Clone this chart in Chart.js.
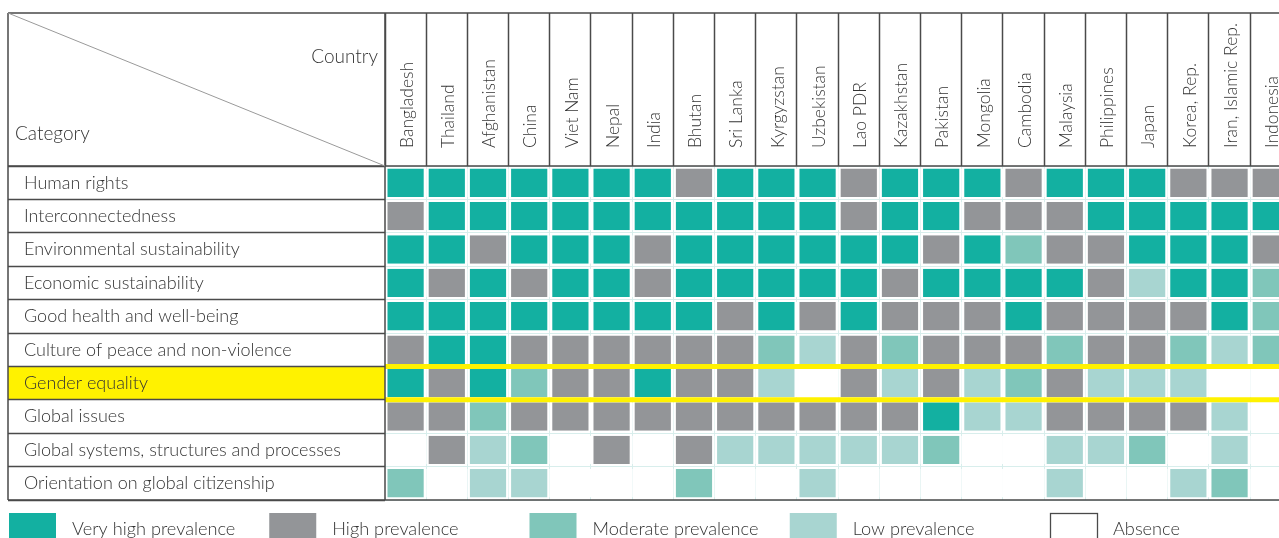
<!DOCTYPE html>
<html><head><meta charset="utf-8">
<script src="https://cdn.jsdelivr.net/npm/chart.js@4.4.1/dist/chart.umd.min.js"></script>
<style>html,body{margin:0;padding:0;background:#fff;overflow:hidden}
#wrap{position:relative;width:1279px;height:538px}</style>
</head><body><div id="wrap"><canvas id="c" width="1279" height="538"></canvas></div>
<script>
const categories = ["Human rights","Interconnectedness","Environmental sustainability","Economic sustainability","Good health and well-being","Culture of peace and non-violence","Gender equality","Global issues","Global systems, structures and processes","Orientation on global citizenship"];
const countries = ["Bangladesh","Thailand","Afghanistan","China","Viet Nam","Nepal","India","Bhutan","Sri Lanka","Kyrgyzstan","Uzbekistan","Lao PDR","Kazakhstan","Pakistan","Mongolia","Cambodia","Malaysia","Philippines","Japan","Korea, Rep.","Iran, Islamic Rep.","Indonesia"];
// prevalence level: 4 very high, 3 high, 2 moderate, 1 low, 0 absence (one value per country)
const humanRights        = [4,4,4,4,4,4,4,3,4,4,4,3,4,4,4,3,4,4,4,3,3,3];
const interconnectedness = [3,4,4,4,4,4,4,4,4,4,4,3,4,4,3,3,3,4,4,4,4,4];
const environmental      = [4,4,3,4,4,4,3,4,4,4,4,4,4,3,4,2,3,3,4,4,4,3];
const economic           = [4,3,4,3,4,4,3,4,4,4,4,4,3,4,4,4,4,3,1,4,4,2];
const goodHealth         = [4,4,4,4,4,4,4,4,3,4,3,4,3,3,3,4,3,3,3,3,4,2];
const culturePeace       = [3,4,4,3,3,3,3,3,3,2,1,3,2,3,3,3,2,3,3,2,1,2];
const genderEquality     = [4,3,4,2,3,3,4,3,3,1,0,3,1,3,1,2,3,1,1,1,0,0];
const globalIssues       = [3,3,2,3,3,3,3,3,3,3,3,3,3,4,1,1,3,3,3,3,1,0];
const globalSystems      = [0,3,1,2,0,3,0,3,1,1,1,1,1,2,0,0,1,1,2,0,1,0];
const orientation        = [2,0,1,1,0,0,0,2,0,0,1,0,0,0,0,0,1,0,0,1,2,0];
const levelNames  = ["Absence","Low prevalence","Moderate prevalence","High prevalence","Very high prevalence"];
const levelColors = ["#ffffff","#a8d5d1","#80c6ba","#939598","#13b0a1"];
const legendOrder = [4,3,2,1,0];
const highlightCategory = "Gender equality";

const matrix = [humanRights, interconnectedness, environmental, economic, goodHealth, culturePeace, genderEquality, globalIssues, globalSystems, orientation];

const FAMILY = "Lato, 'Open Sans', sans-serif";
const TEXT = "#333333";
const LINE = "#4a4a4a";

const datasets = countries.map((country, ci) => ({
  label: country,
  data: categories.map(() => [ci, ci + 1]),
  backgroundColor: matrix.map(row => levelColors[row[ci]]),
  borderColor: "#ffffff",
  borderWidth: {left: 2.5, right: 2.5, top: 0, bottom: 0},
  borderSkipped: false,
  grouped: false,
  barPercentage: 0.85,
  categoryPercentage: 1
}));

const tablePlugin = {
  id: "tablePlugin",
  beforeDraw(chart) {
    const {ctx, chartArea: a, scales: {y}} = chart;
    const hi = categories.indexOf(highlightCategory);
    const half = (y.getPixelForValue(1) - y.getPixelForValue(0)) / 2;
    const cy = y.getPixelForValue(hi);
    ctx.save();
    ctx.fillStyle = "#fff200";
    ctx.fillRect(8, cy - half, a.left - 8, half * 2);
    ctx.restore();
  },
  afterDatasetsDraw(chart) {
    const {ctx, chartArea: a, scales: {y}} = chart;
    const hi = categories.indexOf(highlightCategory);
    const half = (y.getPixelForValue(1) - y.getPixelForValue(0)) / 2;
    const cy = y.getPixelForValue(hi);
    ctx.save();
    ctx.strokeStyle = "#fff200";
    ctx.lineWidth = 5;
    [cy - half, cy + half].forEach(yy => {
      ctx.beginPath(); ctx.moveTo(a.left, yy); ctx.lineTo(chart.width, yy); ctx.stroke();
    });
    ctx.restore();
  },
  afterDraw(chart) {
    const {ctx, chartArea: a} = chart;
    const top = 13, left = 8;
    ctx.save();
    ctx.strokeStyle = LINE;
    ctx.lineWidth = 1.5;
    ctx.beginPath();
    ctx.moveTo(left, top); ctx.lineTo(chart.width, top);
    ctx.moveTo(left, a.top); ctx.lineTo(chart.width, a.top);
    ctx.moveTo(left, a.bottom); ctx.lineTo(chart.width, a.bottom);
    ctx.moveTo(left, top); ctx.lineTo(left, a.bottom);
    ctx.moveTo(a.left, top); ctx.lineTo(a.left, a.bottom);
    ctx.stroke();
    // diagonal of the corner cell
    ctx.strokeStyle = "#9a9a9a";
    ctx.lineWidth = 1;
    ctx.beginPath(); ctx.moveTo(left, top); ctx.lineTo(a.left, a.top); ctx.stroke();
    ctx.fillStyle = TEXT;
    ctx.font = "300 19px " + FAMILY;
    ctx.textBaseline = "alphabetic";
    ctx.textAlign = "right";
    ctx.fillText("Country", a.left - 7, 63);
    ctx.textAlign = "left";
    ctx.fillText("Category", 15, 140);
    // legend
    ctx.font = "300 18.2px " + FAMILY;
    const pitch = 260.25, boxW = 47, boxTop = 513, boxH = 30;
    legendOrder.forEach((lv, k) => {
      const x0 = 9 + pitch * k;
      if (lv === 0) {
        ctx.strokeStyle = LINE; ctx.lineWidth = 1.3;
        ctx.strokeRect(x0 + 0.5, boxTop + 0.5, boxW, boxH);
      } else {
        ctx.fillStyle = levelColors[lv];
        ctx.fillRect(x0, boxTop, boxW, boxH);
      }
      ctx.fillStyle = TEXT;
      ctx.textAlign = "left";
      ctx.fillText(levelNames[lv], x0 + 63, 535);
    });
    ctx.restore();
  }
};

new Chart(document.getElementById("c"), {
  type: "bar",
  data: {labels: categories, datasets},
  options: {
    indexAxis: "y",
    responsive: false,
    devicePixelRatio: 1,
    animation: false,
    layout: {padding: {left: 24, top: 13, right: 0, bottom: 38}},
    plugins: {legend: {display: false}, tooltip: {enabled: false}},
    scales: {
      x: {
        type: "linear", position: "top", min: 0, max: 21.7,
        afterBuildTicks: s => { s.ticks = countries.map((c, i) => ({value: i + 0.5})); },
        afterFit: s => { s.height = 153; },
        grid: {offset: true, drawOnChartArea: true, color: "#d8eeec", drawTicks: true, tickLength: 153, tickColor: LINE, tickWidth: 1.5},
        border: {display: false},
        ticks: {autoSkip: false, minRotation: 90, maxRotation: 90, padding: -135, labelOffset: 22.5, color: TEXT,
          font: {family: FAMILY, size: 17.5, weight: "300"},
          callback: v => countries[Math.floor(v)]}
      },
      y: {
        type: "category", position: "left", offset: true,
        afterFit: s => { s.width = 361; },
        grid: {offset: true, drawOnChartArea: true, color: "#d8eeec", drawTicks: true, tickLength: 377, tickColor: LINE, tickWidth: 1.5},
        border: {display: false},
        ticks: {crossAlign: "far", padding: 0, color: TEXT, font: {family: FAMILY, size: 18, weight: "300"}}
      }
    }
  },
  plugins: [tablePlugin]
});
</script>
</body></html>
